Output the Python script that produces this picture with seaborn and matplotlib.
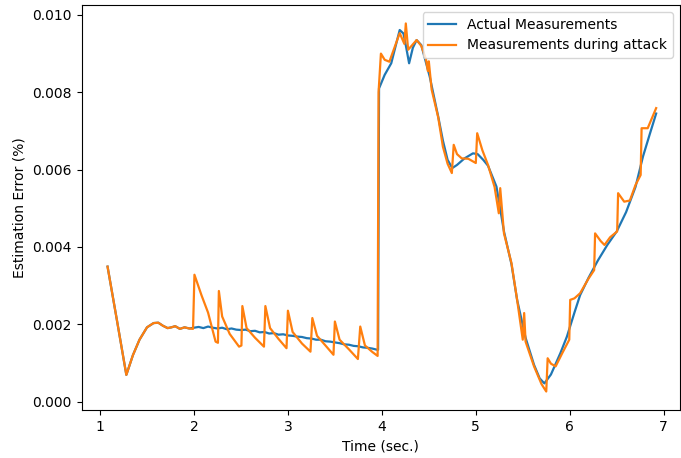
import matplotlib
matplotlib.use("Agg")
import matplotlib.pyplot as plt
import seaborn as sns

# ---------------------------------------------------------
# Dati (tempo in secondi, errore in %)
# ---------------------------------------------------------
t_actual = [1.08, 1.18, 1.28, 1.35, 1.42, 1.50, 1.57, 1.62, 1.67, 1.72, 1.76, 1.80,
            1.85, 1.90, 1.95, 2.00, 2.05, 2.10, 2.15, 2.20, 2.25, 2.30, 2.35, 2.40,
            2.45, 2.50, 2.55, 2.60, 2.65, 2.70, 2.75, 2.80, 2.85, 2.90, 2.95, 3.00,
            3.05, 3.10, 3.15, 3.20, 3.25, 3.30, 3.35, 3.40, 3.45, 3.50, 3.55, 3.60,
            3.65, 3.70, 3.75, 3.80, 3.85, 3.90, 3.95, 3.96, 3.97, 4.03, 4.10, 4.19,
            4.23, 4.26, 4.29, 4.33, 4.37, 4.42, 4.51, 4.60, 4.65, 4.70, 4.75, 4.80,
            4.88, 4.97, 5.02, 5.08, 5.13, 5.22, 5.30, 5.38, 5.44, 5.53, 5.62, 5.68,
            5.73, 5.80, 5.90, 5.97, 6.05, 6.11, 6.20, 6.30, 6.40, 6.50, 6.60, 6.70,
            6.78, 6.85, 6.92]
err_actual = [0.00349, 0.00210, 0.00069, 0.00120, 0.00160, 0.00192, 0.00203, 0.00204, 0.00196,
              0.00190, 0.00192, 0.00195, 0.00188, 0.00192, 0.00189, 0.00191, 0.00193, 0.00190,
              0.00194, 0.00191, 0.00189, 0.00191, 0.00187, 0.00189, 0.00186, 0.00185, 0.00186,
              0.00182, 0.00183, 0.00179, 0.00180, 0.00176, 0.00177, 0.00173, 0.00174, 0.00171,
              0.00170, 0.00168, 0.00167, 0.00164, 0.00163, 0.00160, 0.00160, 0.00156, 0.00155,
              0.00153, 0.00151, 0.00148, 0.00147, 0.00144, 0.00143, 0.00140, 0.00139, 0.00137,
              0.00134, 0.00134, 0.00810, 0.00845, 0.00875, 0.00961, 0.00952, 0.00915, 0.00875,
              0.00915, 0.00935, 0.00922, 0.00840, 0.00737, 0.00675, 0.00625, 0.00604, 0.00612,
              0.00629, 0.00642, 0.00640, 0.00625, 0.00610, 0.00556, 0.00440, 0.00355, 0.00263,
              0.00165, 0.00095, 0.00060, 0.00047, 0.00070, 0.00125, 0.00168, 0.00230, 0.00275,
              0.00320, 0.00365, 0.00405, 0.00440, 0.00490, 0.00555, 0.00634, 0.00690, 0.00745]

t_attack = [1.08, 1.18, 1.28, 1.35, 1.42, 1.50, 1.57, 1.62, 1.67, 1.72, 1.76, 1.80,
            1.85, 1.90, 1.95, 1.99, 2.005, 2.08, 2.15, 2.23, 2.255, 2.265, 2.30, 2.38,
            2.48, 2.505, 2.515, 2.56, 2.65, 2.745, 2.76, 2.81, 2.90, 2.985, 3.00, 3.05,
            3.15, 3.24, 3.26, 3.31, 3.40, 3.485, 3.50, 3.55, 3.65, 3.745, 3.77, 3.82,
            3.90, 3.955, 3.965, 3.99, 4.03, 4.08, 4.19, 4.24, 4.255, 4.28, 4.37, 4.42,
            4.47, 4.49, 4.50, 4.53, 4.60, 4.65, 4.70, 4.745, 4.765, 4.80, 4.85, 4.92,
            5.00, 5.015, 5.07, 5.13, 5.20, 5.245, 5.26, 5.30, 5.38, 5.44, 5.50, 5.515,
            5.53, 5.62, 5.70, 5.75, 5.765, 5.80, 5.85, 5.92, 5.995, 6.005, 6.05, 6.11,
            6.20, 6.26, 6.27, 6.33, 6.37, 6.43, 6.505, 6.515, 6.58, 6.64, 6.70, 6.755,
            6.765, 6.83, 6.92]
err_attack = [0.00349, 0.00210, 0.00069, 0.00120, 0.00160, 0.00192, 0.00203, 0.00204, 0.00196,
              0.00190, 0.00192, 0.00195, 0.00188, 0.00192, 0.00189, 0.00188, 0.00328, 0.00275,
              0.00230, 0.00155, 0.00152, 0.00286, 0.00220, 0.00175, 0.00142, 0.00145, 0.00247,
              0.00190, 0.00165, 0.00142, 0.00247, 0.00190, 0.00162, 0.00138, 0.00235, 0.00180,
              0.00150, 0.00129, 0.00216, 0.00170, 0.00145, 0.00121, 0.00207, 0.00160, 0.00135,
              0.00110, 0.00194, 0.00145, 0.00128, 0.00118, 0.00800, 0.00900, 0.00884, 0.00879,
              0.00953, 0.00925, 0.00978, 0.00910, 0.00935, 0.00920, 0.00885, 0.00855, 0.00880,
              0.00807, 0.00735, 0.00659, 0.00615, 0.00591, 0.00664, 0.00640, 0.00629, 0.00628,
              0.00617, 0.00694, 0.00650, 0.00612, 0.00555, 0.00487, 0.00552, 0.00435, 0.00358,
              0.00263, 0.00160, 0.00229, 0.00155, 0.00091, 0.00045, 0.00026, 0.00112, 0.00098,
              0.00091, 0.00125, 0.00160, 0.00263, 0.00267, 0.00280, 0.00318, 0.00340, 0.00435,
              0.00415, 0.00405, 0.00425, 0.00440, 0.00539, 0.00517, 0.00520, 0.00560, 0.00586,
              0.00707, 0.00707, 0.00759]

# ---------------------------------------------------------
# Grafico
# ---------------------------------------------------------
fig = plt.figure(figsize=(6.81, 4.58), dpi=100)
ax = fig.add_axes([0.12, 0.105, 0.878, 0.884])

sns.lineplot(x=t_actual, y=err_actual, estimator=None, sort=False, ax=ax,
             color='#1f77b4', linewidth=1.6, label='Actual Measurements')
sns.lineplot(x=t_attack, y=err_attack, estimator=None, sort=False, ax=ax,
             color='#ff7f0e', linewidth=1.6, label='Measurements during attack')

ax.set_xlim(0.805, 7.17)
ax.set_xlabel("Time (sec.)")
ax.set_ylabel("Estimation Error (%)")
ax.set_yticks([0.000, 0.002, 0.004, 0.006, 0.008, 0.010])
ax.set_yticklabels(["0.000", "0.002", "0.004", "0.006", "0.008", "0.010"])
ax.legend(loc='upper right')

plt.savefig("out.png", dpi=100)
